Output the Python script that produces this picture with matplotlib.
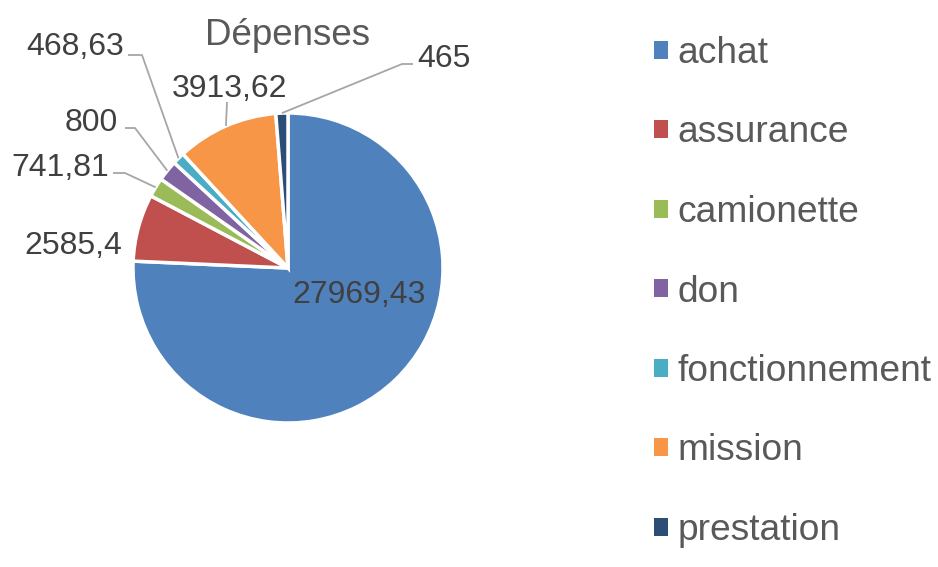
import numpy as np
import matplotlib
matplotlib.use("Agg")
import matplotlib.pyplot as plt
from matplotlib.patches import Rectangle

plt.rcParams['font.family'] = ['Liberation Sans', 'DejaVu Sans']

# données
categories = ['achat', 'assurance', 'camionette', 'don', 'fonctionnement', 'mission', 'prestation']
valeurs = [27969.43, 2585.4, 741.81, 800, 468.63, 3913.62, 465]
etiquettes = ['27969,43', '2585,4', '741,81', '800', '468,63', '3913,62', '465']
couleurs = ['#4F81BD', '#C0504D', '#9BBB59', '#8064A2', '#4BACC6', '#F79646', '#2C4D75']

W, H = 938, 567
fig = plt.figure(figsize=(W / 100, H / 100), dpi=100)
ax = fig.add_axes([0, 0, 1, 1])
ax.set_xlim(0, W)
ax.set_ylim(0, H)
ax.set_aspect('equal')
ax.axis('off')


def Y(py):
    # pixel (haut -> bas) vers coordonnées de l'axe
    return H - py


cx, cy, R = 288, 268, 155
wedges, _ = ax.pie(valeurs, colors=couleurs, startangle=90, counterclock=False,
                   center=(cx, Y(cy)), radius=R, frame=True,
                   wedgeprops=dict(edgecolor='white', linewidth=2.5))
ax.set_xlim(0, W)
ax.set_ylim(0, H)
ax.axis('off')

txt_col = '#404040'
fs_lab = 23

# positions des étiquettes (px) : x, y ligne de base, alignement, coude de la ligne
places = {
    0: (359, 303, 'center', None),
    1: (122, 254, 'right', None),
    2: (109, 176, 'right', [(113, 173), (125, 173)]),
    3: (118, 131, 'right', [(125, 128), (135, 128)]),
    4: (124, 55, 'right', [(128, 55), (142, 55)]),
    5: (230, 97, 'center', [(227, 102)]),
    6: (417, 67, 'left', [(413, 64), (402, 64)]),
}

for i, w in enumerate(wedges):
    x, yb, ha, coude = places[i]
    ax.text(x, Y(yb), etiquettes[i], fontsize=fs_lab, color=txt_col, ha=ha, va='baseline')
    if coude:
        mid = np.deg2rad((w.theta1 + w.theta2) / 2)
        px = cx + R * np.cos(mid)
        py = cy - R * np.sin(mid)
        pts = coude + [(px, py)]
        ax.plot([p[0] for p in pts], [Y(p[1]) for p in pts], color='#A6A6A6', lw=1.3,
                solid_capstyle='butt')

ax.text(288, Y(45), 'Dépenses', fontsize=26.5, color='#595959', ha='center', va='baseline')

handles = [Rectangle((0, 0), 1, 1, facecolor=c) for c in couleurs]
leg = ax.legend(handles, categories, loc='upper left', bbox_to_anchor=(654 / W, 1 - 36 / H),
                bbox_transform=fig.transFigure, frameon=False, fontsize=26.7,
                handlelength=0.38, handleheight=0.38, handletextpad=0.25,
                labelspacing=1.2, borderpad=0, borderaxespad=0)
for t in leg.get_texts():
    t.set_color('#595959')

fig.savefig('out.png', dpi=100, facecolor='white')
